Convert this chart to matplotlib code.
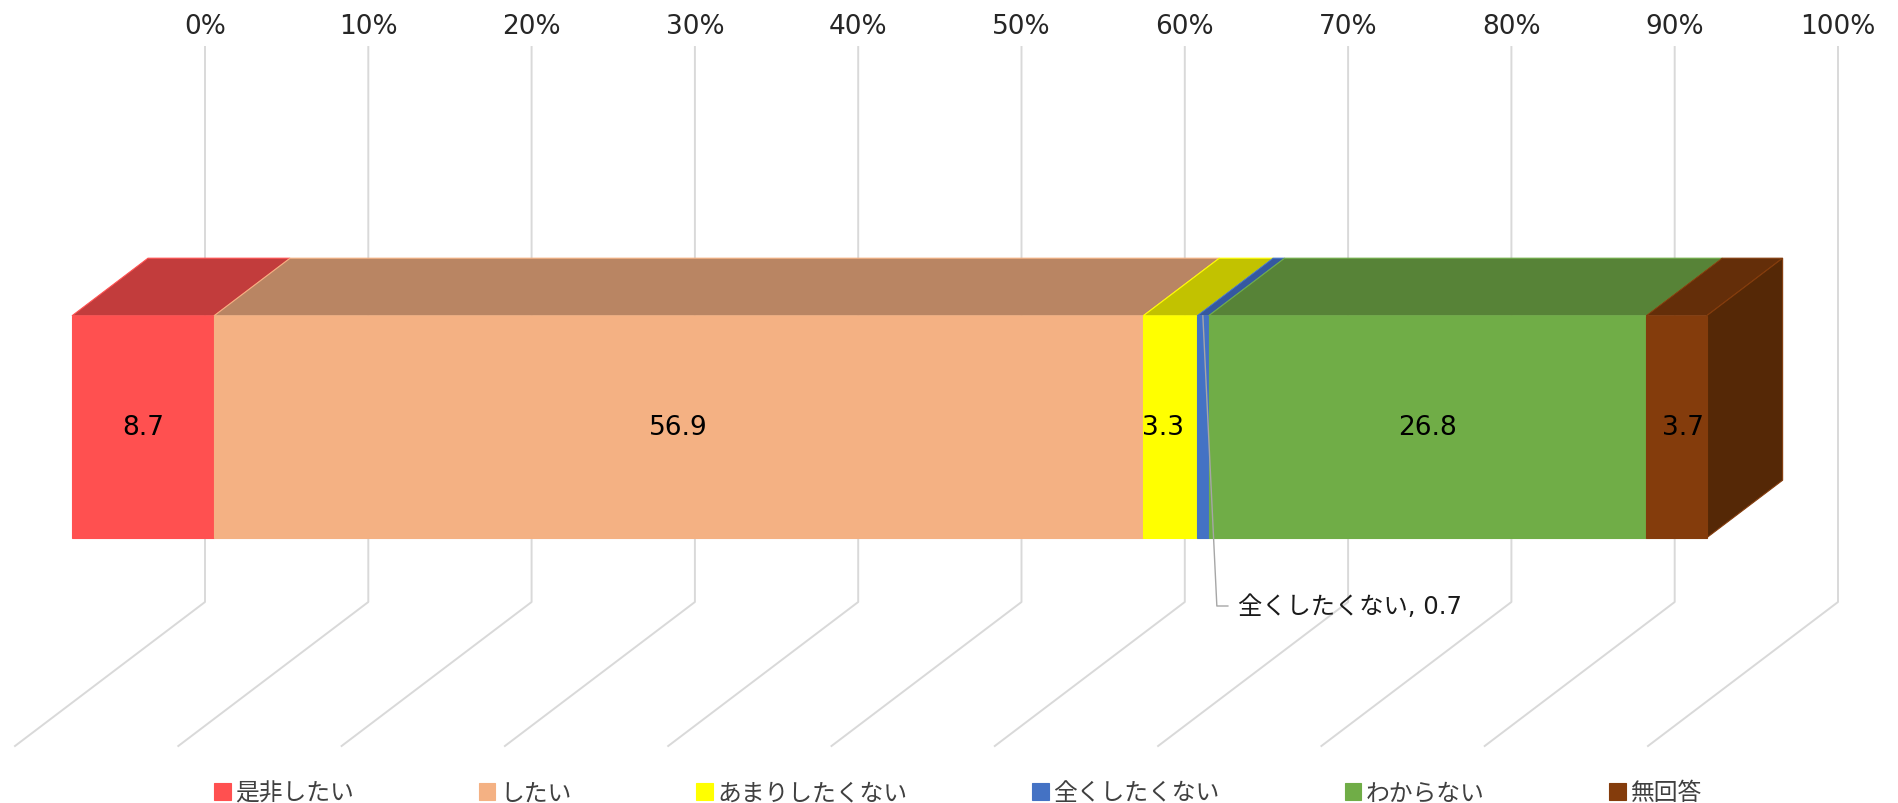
"""Single stacked bar in an oblique 3D box, drawn on a flat pixel-sized axes."""

import matplotlib

matplotlib.use("Agg")
import matplotlib.pyplot as plt
from matplotlib.patches import Polygon

plt.rcParams["font.family"] = ["Noto Sans CJK JP", "DejaVu Sans"]
NUMBER_FONT = ["DejaVu Sans", "Noto Sans CJK JP"]  # wide digits, kana fall through

categories = ["是非したい", "したい", "あまりしたくない", "全くしたくない", "わからない", "無回答"]
values = [8.7, 56.9, 3.3, 0.7, 26.8, 3.7]
ticks = [0, 10, 20, 30, 40, 50, 60, 70, 80, 90, 100]

colors = ["#FF5050", "#F4B183", "#FFFF00", "#4472C4", "#70AD47", "#843C0C"]
top_colors = ["#C23C3C", "#B98563", "#C2C200", "#3558A0", "#578337", "#642E09"]
SIDE_COLOR = "#552806"

# Projection: value runs right, depth runs up and to the right, height runs up.
ORIGIN = (15.0, 747.0)
PX_PER_VALUE = 16.33
DEPTH_VEC = (190.0, -144.0)
WALL_HEIGHT = 555.0
BAR_LOW, BAR_HIGH = 0.3, 0.7  # bar fills the middle of both depth and height
BAR_DROP = 1.5  # the bar sits slightly lower than the exact wall centre


def project(value, depth, height):
    """Map (value, depth 0-1, height 0-1) to pixel coordinates on the axes."""
    x = ORIGIN[0] + value * PX_PER_VALUE + depth * DEPTH_VEC[0]
    y = ORIGIN[1] + depth * DEPTH_VEC[1] - height * WALL_HEIGHT
    return x, y


def face(ax, corners, color, edge, **kwargs):
    points = [project(*c) for c in corners]
    points = [(x, y + BAR_DROP) for x, y in points]
    patch = Polygon(points, closed=True, facecolor=color, edgecolor=edge, linewidth=0.8, **kwargs)
    ax.add_patch(patch)
    return patch


fig = plt.figure(figsize=(18.98, 8.04), dpi=100)
ax = fig.add_axes([0, 0, 1, 1])
ax.set_xlim(0, 1898)
ax.set_ylim(804, 0)
ax.axis("off")

# Back wall and floor gridlines, with the percent labels above them.
for tick in ticks:
    pts = [project(tick, 0, 0), project(tick, 1, 0), project(tick, 1, 1)]
    ax.plot([p[0] for p in pts], [p[1] for p in pts], color="#D9D9D9", lw=1.4, zorder=1)
    top_x, top_y = pts[-1]
    ax.text(top_x, top_y - 21, f"{tick}%", ha="center", va="center", fontsize=19, color="#262626", family=NUMBER_FONT)

lo, hi = BAR_LOW, BAR_HIGH
start = 0.0
for name, value, color, top in zip(categories, values, colors, top_colors):
    end = start + value
    face(ax, [(start, lo, hi), (end, lo, hi), (end, hi, hi), (start, hi, hi)], top, color, zorder=2)
    face(ax, [(start, lo, lo), (end, lo, lo), (end, lo, hi), (start, lo, hi)], color, color, zorder=3, label=name)
    start = end

# Only the last segment shows its right-hand side.
face(ax, [(start, lo, lo), (start, hi, lo), (start, hi, hi), (start, lo, hi)], SIDE_COLOR, colors[-1], zorder=2)

# Data labels; the two narrow segments sit a little off centre in the original.
label_shift = [0, 0, -7, 0, 0, 7]
start = 0.0
for i, value in enumerate(values):
    if categories[i] != "全くしたくない":
        x, y = project(start + value / 2, lo, 0.5)
        ax.text(x + label_shift[i], y + 2, f"{value}", ha="center", va="center", fontsize=19, color="black", zorder=5, family=NUMBER_FONT)
    start += value

# Callout for the sliver too thin to hold its own label.
blue_mid = sum(values[:3]) + values[3] / 2
lead_x, lead_y = project(blue_mid, lo, hi)
elbow = (lead_x + 14, 607)
ax.plot([lead_x, elbow[0], elbow[0] + 11], [lead_y + BAR_DROP, elbow[1], elbow[1]], color="#A6A6A6", lw=1.0, zorder=4)
ax.text(elbow[0] + 21, elbow[1], f"{categories[3]}, {values[3]}", ha="left", va="center", fontsize=17.5, color="#1A1A1A", zorder=5, family=NUMBER_FONT)

fig.legend(
    loc="center",
    bbox_to_anchor=(958 / 1898, 1 - 794 / 804),
    ncol=6,
    frameon=False,
    fontsize=17.15,
    labelcolor="#404040",
    handlelength=0.68,
    handleheight=0.72,
    handletextpad=0.2,
    columnspacing=5.25,
    borderpad=0,
    borderaxespad=0,
)

fig.savefig("out.png", dpi=100)
